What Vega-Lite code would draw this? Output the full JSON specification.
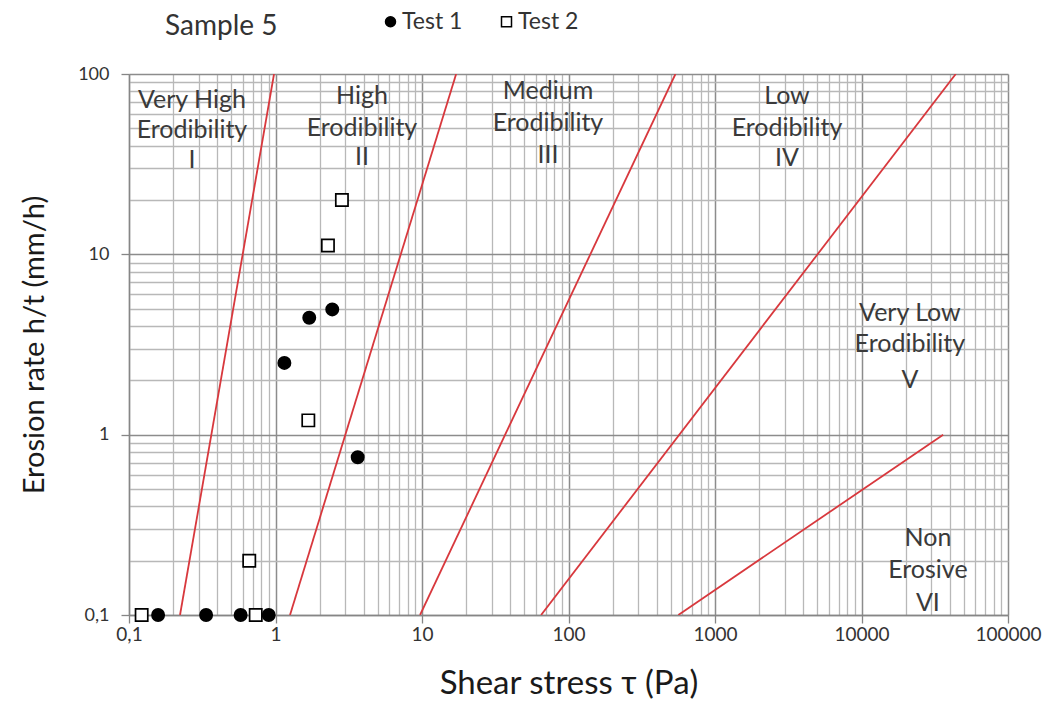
{
  "$schema": "https://vega.github.io/schema/vega-lite/v6.json",
  "width": 879,
  "height": 541,
  "autosize": {"type": "none"},
  "padding": {"left": 129, "top": 74, "right": 55, "bottom": 87},
  "background": "white",
  "config": {
    "font": "Lato",
    "view": {"stroke": null},
    "axis": {
      "labelFont": "Lato",
      "titleFont": "Lato",
      "labelColor": "#333333",
      "titleColor": "#1a1a1a",
      "titleFontWeight": "normal",
      "domainColor": "#868686",
      "domainWidth": 1.3,
      "tickColor": "#868686",
      "tickWidth": 1.3,
      "tickSize": 8,
      "labelOverlap": false,
      "labelBound": false,
      "labelFlush": false
    },
    "legend": {"labelFont": "Lato"},
    "title": {"font": "Lato"}
  },
  "title": {
    "text": "Sample 5",
    "anchor": "start",
    "frame": "group",
    "dx": 36,
    "offset": -31,
    "fontSize": 28,
    "fontWeight": "normal",
    "color": "#333333"
  },
  "datasets": {
    "measurements": [
      {"tau": 0.158, "rate": 0.1, "test": "Test 1"},
      {"tau": 0.336, "rate": 0.1, "test": "Test 1"},
      {"tau": 0.578, "rate": 0.1, "test": "Test 1"},
      {"tau": 0.899, "rate": 0.1, "test": "Test 1"},
      {"tau": 1.15, "rate": 2.5, "test": "Test 1"},
      {"tau": 1.7, "rate": 4.45, "test": "Test 1"},
      {"tau": 2.44, "rate": 4.95, "test": "Test 1"},
      {"tau": 3.64, "rate": 0.75, "test": "Test 1"},
      {"tau": 0.122, "rate": 0.1, "test": "Test 2"},
      {"tau": 0.733, "rate": 0.1, "test": "Test 2"},
      {"tau": 0.662, "rate": 0.2, "test": "Test 2"},
      {"tau": 1.675, "rate": 1.2, "test": "Test 2"},
      {"tau": 2.28, "rate": 11.2, "test": "Test 2"},
      {"tau": 2.84, "rate": 20, "test": "Test 2"}
    ],
    "boundaries": [
      {"boundary": "I-II", "tau": 0.223, "rate": 0.1},
      {"boundary": "I-II", "tau": 0.977, "rate": 100},
      {"boundary": "II-III", "tau": 1.256, "rate": 0.1},
      {"boundary": "II-III", "tau": 17.1, "rate": 100},
      {"boundary": "III-IV", "tau": 9.7, "rate": 0.1},
      {"boundary": "III-IV", "tau": 537, "rate": 100},
      {"boundary": "IV-V", "tau": 65, "rate": 0.1},
      {"boundary": "IV-V", "tau": 44000, "rate": 100},
      {"boundary": "V-VI", "tau": 562, "rate": 0.1},
      {"boundary": "V-VI", "tau": 36100, "rate": 1}
    ],
    "zones": [
      {"tau": 0.269, "rate": 71.7, "text": "Very High"},
      {"tau": 0.269, "rate": 48.8, "text": "Erodibility"},
      {"tau": 0.269, "rate": 33.3, "text": "I"},
      {"tau": 3.89, "rate": 75.5, "text": "High"},
      {"tau": 3.89, "rate": 50.1, "text": "Erodibility"},
      {"tau": 3.89, "rate": 34.6, "text": "II"},
      {"tau": 72.4, "rate": 80.5, "text": "Medium"},
      {"tau": 72.4, "rate": 53.4, "text": "Erodibility"},
      {"tau": 72.4, "rate": 35.5, "text": "III"},
      {"tau": 3100, "rate": 75.5, "text": "Low"},
      {"tau": 3100, "rate": 50.1, "text": "Erodibility"},
      {"tau": 3100, "rate": 34.1, "text": "IV"},
      {"tau": 21400, "rate": 4.7, "text": "Very Low"},
      {"tau": 21400, "rate": 3.2, "text": "Erodibility"},
      {"tau": 21400, "rate": 2.02, "text": "V"},
      {"tau": 28400, "rate": 0.268, "text": "Non"},
      {"tau": 28400, "rate": 0.178, "text": "Erosive"},
      {"tau": 28400, "rate": 0.1166, "text": "VI"}
    ]
  },
  "encoding": {
    "x": {
      "field": "tau",
      "type": "quantitative",
      "scale": {"type": "log", "domain": [0.1, 100000], "nice": false},
      "axis": {
        "title": "Shear stress τ (Pa)",
        "titleFontSize": 33,
        "titlePadding": 23,
        "labelFontSize": 19,
        "labelPadding": 2,
        "values": [0.1, 0.2, 0.3, 0.4, 0.5, 0.6, 0.7, 0.8, 0.9, 1, 2, 3, 4, 5, 6, 7, 8, 9, 10, 20, 30, 40, 50, 60, 70, 80, 90, 100, 200, 300, 400, 500, 600, 700, 800, 900, 1000, 2000, 3000, 4000, 5000, 6000, 7000, 8000, 9000, 10000, 20000, 30000, 40000, 50000, 60000, 70000, 80000, 90000, 100000],
        "labelExpr": "datum.value == 0.1 ? '0,1' : (indexof([1, 10, 100, 1000, 10000, 100000], datum.value) >= 0 ? format(datum.value, 'd') : '')",
        "tickOpacity": {"condition": {"test": "indexof([0.1, 1, 10, 100, 1000, 10000, 100000], datum.value) >= 0", "value": 1}, "value": 0},
        "grid": true,
        "gridColor": {"condition": {"test": "indexof([0.1, 1, 10, 100, 1000, 10000, 100000], datum.value) >= 0", "value": "#8c8c8c"}, "value": "#b8b8b8"},
        "gridWidth": {"condition": {"test": "indexof([0.1, 1, 10, 100, 1000, 10000, 100000], datum.value) >= 0", "value": 1.5}, "value": 1.3}
      }
    },
    "y": {
      "field": "rate",
      "type": "quantitative",
      "scale": {"type": "log", "domain": [0.1, 100], "nice": false},
      "axis": {
        "title": "Erosion rate h/t (mm/h)",
        "titleFontSize": 29,
        "titlePadding": 28,
        "labelFontSize": 18,
        "labelPadding": 12,
        "values": [0.1, 0.2, 0.3, 0.4, 0.5, 0.6, 0.7, 0.8, 0.9, 1, 2, 3, 4, 5, 6, 7, 8, 9, 10, 20, 30, 40, 50, 60, 70, 80, 90, 100],
        "labelExpr": "datum.value == 0.1 ? '0,1' : (indexof([1, 10, 100], datum.value) >= 0 ? format(datum.value, 'd') : '')",
        "tickOpacity": {"condition": {"test": "indexof([0.1, 1, 10, 100], datum.value) >= 0", "value": 1}, "value": 0},
        "grid": true,
        "gridColor": {"condition": {"test": "indexof([0.1, 1, 10, 100], datum.value) >= 0", "value": "#8c8c8c"}, "value": "#b8b8b8"},
        "gridWidth": {"condition": {"test": "indexof([0.1, 1, 10, 100], datum.value) >= 0", "value": 1.5}, "value": 1.3}
      }
    }
  },
  "layer": [
    {
      "data": {"name": "boundaries"},
      "mark": {"type": "line", "color": "#d8383d", "strokeWidth": 1.8, "clip": true},
      "encoding": {"detail": {"field": "boundary", "type": "nominal"}}
    },
    {
      "data": {"name": "zones"},
      "mark": {"type": "text", "font": "Lato", "fontSize": 25, "color": "#3a3a3a", "align": "center", "baseline": "middle"},
      "encoding": {"text": {"field": "text", "type": "nominal"}}
    },
    {
      "data": {"name": "measurements"},
      "mark": {"type": "point", "filled": true, "stroke": "black", "strokeWidth": 1.7, "size": 150, "opacity": 1},
      "encoding": {
        "shape": {
          "field": "test",
          "type": "nominal",
          "scale": {"domain": ["Test 1", "Test 2"], "range": ["circle", "square"]},
          "legend": {
            "orient": "none",
            "legendX": 250,
            "legendY": -64,
            "direction": "horizontal",
            "title": null,
            "labelFontSize": 23,
            "labelColor": "#333333",
            "labelOffset": 0,
            "symbolSize": 100,
            "columnPadding": 32,
            "padding": 0,
            "encode": {"symbols": {"update": {"stroke": {"value": "black"}, "strokeWidth": {"value": 1.5}}}}
          }
        },
        "fill": {
          "field": "test",
          "type": "nominal",
          "scale": {"domain": ["Test 1", "Test 2"], "range": ["black", "white"]},
          "legend": {
            "orient": "none",
            "legendX": 250,
            "legendY": -64,
            "direction": "horizontal",
            "title": null,
            "labelFontSize": 23,
            "labelColor": "#333333",
            "labelOffset": 0,
            "symbolSize": 100,
            "columnPadding": 32,
            "padding": 0,
            "encode": {"symbols": {"update": {"stroke": {"value": "black"}, "strokeWidth": {"value": 1.5}}}}
          }
        }
      }
    }
  ]
}
